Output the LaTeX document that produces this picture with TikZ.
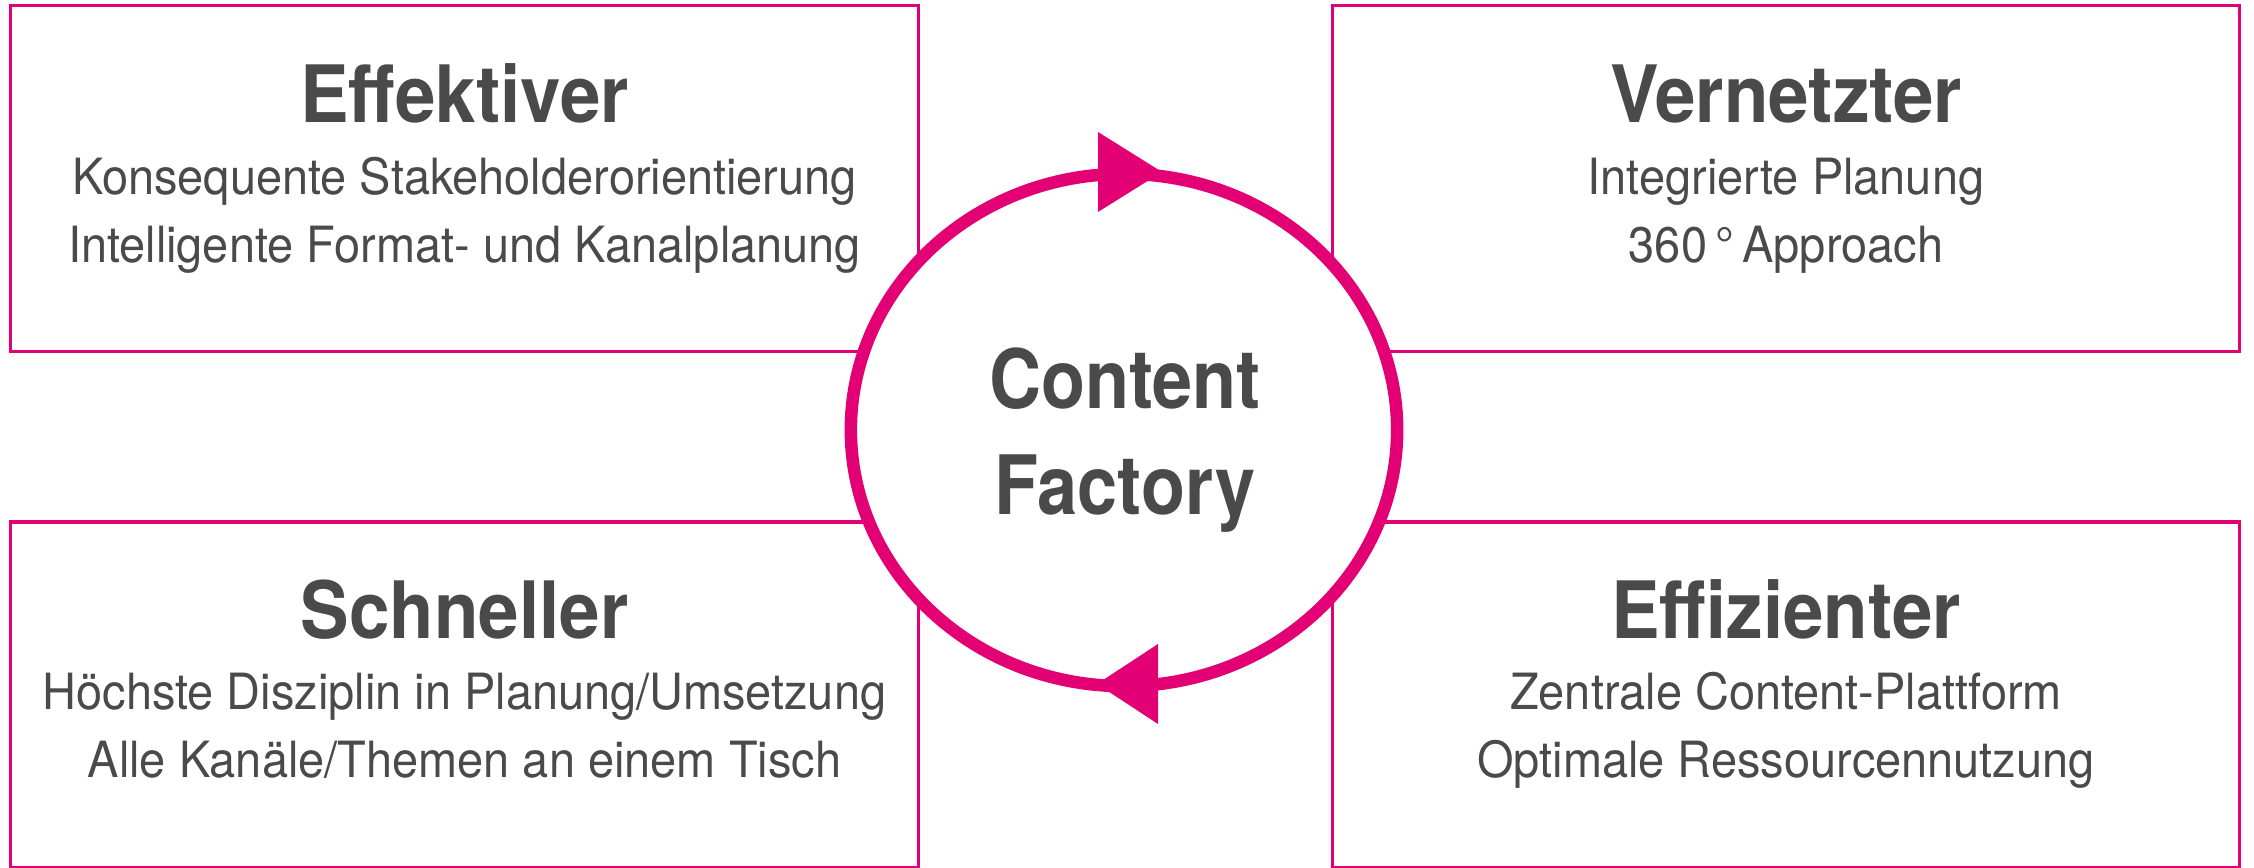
\documentclass[tikz,border=0pt]{standalone}
\usepackage{fontspec}
\usepackage{tikz}
\usetikzlibrary{shapes.geometric}

\newfontfamily\headfont[FakeStretch=0.92]{TeX Gyre Heros}
\newfontfamily\subfont[FakeStretch=0.94]{TeX Gyre Heros}
\newfontfamily\corefont[FakeStretch=0.88]{TeX Gyre Heros}
\definecolor{tmagenta}{HTML}{E20074}
\definecolor{tgray}{HTML}{4A4A4A}

\tikzset{
  panel/.style={draw=tmagenta, line width=0.034cm, minimum width=9.07cm, minimum height=3.46cm, inner sep=0pt},
  headline/.style={anchor=base, text=tgray, inner sep=0pt, font=\headfont\bfseries\fontsize{22.5}{27}\selectfont},
  subline/.style={anchor=base, text=tgray, inner sep=0pt, font=\subfont\fontsize{14.2}{17}\selectfont},
  hub/.style={ellipse, draw=tmagenta, fill=white, line width=0.125cm, minimum width=5.46cm, minimum height=5.12cm},
  core/.style={anchor=base, text=tgray, inner sep=0pt, font=\corefont\bfseries\fontsize{23.3}{28}\selectfont},
}

\begin{document}
\begin{tikzpicture}[x=0.01cm, y=-0.01cm]
\useasboundingbox (0,0) rectangle (2254,868);

% the four boxes
\node[panel] (eff) at (464.5,178.5) {};
\node[panel] (ver) at (1786,178.5) {};
\node[panel] (sch) at (464.5,695) {};
\node[panel] (ezi) at (1786,695) {};

% cycle in the middle, over the boxes
\node[hub] (hub) at (1124,430) {};
\fill[tmagenta] (1162,172) -- (1098,132) -- (1098,212) -- cycle;
\fill[tmagenta] (1097,684) -- (1158,644) -- (1158,724) -- cycle;
\node[core] (content) at (1125,409) {Content};
\node[core] (factory) at (1125,515) {Factory};

% top left
\node[headline] (effT) at (464.5,123) {Effektiver};
\node[subline] (eff1) at (464.5,195) {Konsequente Stakeholderorientierung};
\node[subline] (eff2) at (464.5,263) {Intelligente Format- und Kanalplanung};

% top right
\node[headline] (verT) at (1786,123) {Vernetzter};
\node[subline] (ver1) at (1786,195) {Integrierte Planung};
\node[subline] (ver2) at (1786,263) {360\,°\,Approach};

% bottom left
\node[headline] (schT) at (464.5,639) {Schneller};
\node[subline] (sch1) at (464.5,710) {Höchste Disziplin in Planung/Umsetzung};
\node[subline] (sch2) at (464.5,778) {Alle Kanäle/Themen an einem Tisch};

% bottom right
\node[headline] (eziT) at (1786,639) {Effizienter};
\node[subline] (ezi1) at (1786,710) {Zentrale Content-Plattform};
\node[subline] (ezi2) at (1786,778) {Optimale Ressourcennutzung};

\end{tikzpicture}
\end{document}
